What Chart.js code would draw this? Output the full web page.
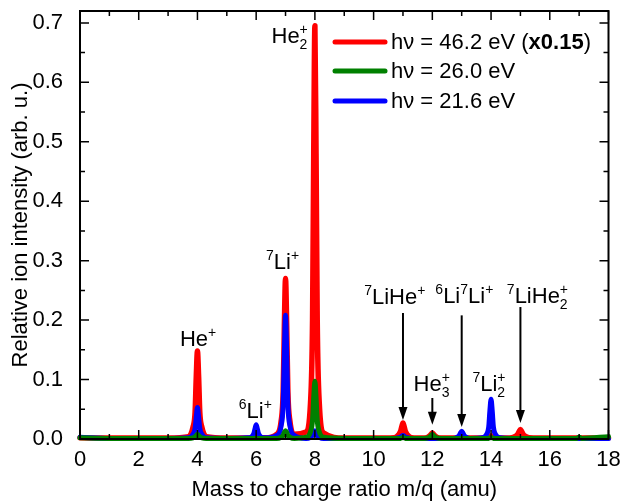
<!DOCTYPE html>
<html>
<head>
<meta charset="utf-8">
<script src="https://cdn.jsdelivr.net/npm/chart.js@4.4.1/dist/chart.umd.min.js"></script>
<style>
  html, body { margin: 0; padding: 0; background: #fff; }
  #wrap { width: 621px; height: 504px; }
</style>
</head>
<body>
<div id="wrap"><canvas id="canvasSpectrum"></canvas></div>
<script>
"use strict";

// mass axis (amu), shared by the three spectra
var massValues = [
    0, 1, 2, 3,
    3.7, 3.85, 3.92, 3.96, 4, 4.04, 4.08, 4.15, 4.3,
    5,
    5.7, 5.85, 5.92, 5.96, 6, 6.04, 6.08, 6.15, 6.3,
    6.7, 6.85, 6.92, 6.96, 7, 7.04, 7.08, 7.15, 7.3,
    7.7, 7.85, 7.92, 7.96, 8, 8.04, 8.08, 8.15, 8.3,
    9, 10,
    10.7, 10.85, 10.92, 10.96, 11, 11.04, 11.08, 11.15, 11.3,
    11.7, 11.85, 11.92, 11.96, 12, 12.04, 12.08, 12.15, 12.3,
    12.7, 12.85, 12.92, 12.96, 13, 13.04, 13.08, 13.15, 13.3,
    13.7, 13.85, 13.92, 13.96, 14, 14.04, 14.08, 14.15, 14.3,
    14.7, 14.85, 14.92, 14.96, 15, 15.04, 15.08, 15.15, 15.3,
    16, 16.9, 17, 17.1, 18
];

// hv = 46.2 eV (x0.15)
var intensity462 = [
    0.002, 0.0015, 0.0015, 0.0015,
    0.004, 0.020, 0.045, 0.105, 0.148, 0.105, 0.045, 0.020, 0.004,
    0.0015,
    0.0015, 0.002, 0.003, 0.004, 0.004, 0.004, 0.003, 0.002, 0.002,
    0.008, 0.030, 0.080, 0.190, 0.270, 0.190, 0.080, 0.030, 0.008,
    0.012, 0.060, 0.200, 0.480, 0.695, 0.480, 0.200, 0.060, 0.010,
    0.0015, 0.0015,
    0.002, 0.007, 0.013, 0.021, 0.027, 0.021, 0.013, 0.007, 0.002,
    0.0015, 0.003, 0.006, 0.008, 0.010, 0.008, 0.006, 0.003, 0.0015,
    0.0015, 0.002, 0.003, 0.004, 0.004, 0.004, 0.003, 0.002, 0.0015,
    0.0015, 0.002, 0.004, 0.005, 0.005, 0.005, 0.004, 0.002, 0.0015,
    0.002, 0.005, 0.009, 0.013, 0.016, 0.013, 0.009, 0.005, 0.002,
    0.0015, 0.0015, 0.0015, 0.0015, 0.0015
];

// hv = 26.0 eV
var intensity260 = [
    0.002, 0.001, 0.001, 0.001,
    0.001, 0.002, 0.004, 0.006, 0.008, 0.006, 0.004, 0.002, 0.001,
    0.001,
    0.001, 0.001, 0.001, 0.001, 0.001, 0.001, 0.001, 0.001, 0.001,
    0.001, 0.003, 0.006, 0.011, 0.014, 0.011, 0.006, 0.003, 0.001,
    0.003, 0.012, 0.032, 0.070, 0.097, 0.070, 0.032, 0.012, 0.003,
    0.001, 0.001,
    0.001, 0.001, 0.001, 0.002, 0.002, 0.002, 0.001, 0.001, 0.001,
    0.001, 0.002, 0.004, 0.006, 0.008, 0.006, 0.004, 0.002, 0.001,
    0.001, 0.001, 0.001, 0.001, 0.001, 0.001, 0.001, 0.001, 0.001,
    0.001, 0.001, 0.001, 0.002, 0.002, 0.002, 0.001, 0.001, 0.001,
    0.001, 0.001, 0.001, 0.001, 0.001, 0.001, 0.001, 0.001, 0.001,
    0.001, 0.001, 0.003, 0.001, 0.004
];

// hv = 21.6 eV
var intensity216 = [
    0.003, 0.001, 0.001, 0.001,
    0.002, 0.008, 0.018, 0.037, 0.053, 0.037, 0.018, 0.008, 0.002,
    0.001,
    0.002, 0.004, 0.009, 0.017, 0.024, 0.017, 0.009, 0.004, 0.002,
    0.006, 0.022, 0.060, 0.145, 0.208, 0.145, 0.060, 0.022, 0.006,
    0.001, 0.003, 0.006, 0.010, 0.014, 0.010, 0.006, 0.003, 0.001,
    0.001, 0.001,
    0.001, 0.002, 0.003, 0.005, 0.006, 0.005, 0.003, 0.002, 0.001,
    0.001, 0.001, 0.001, 0.001, 0.001, 0.001, 0.001, 0.001, 0.001,
    0.001, 0.003, 0.006, 0.010, 0.013, 0.010, 0.006, 0.003, 0.001,
    0.002, 0.008, 0.020, 0.047, 0.067, 0.047, 0.020, 0.008, 0.002,
    0.001, 0.001, 0.001, 0.001, 0.001, 0.001, 0.001, 0.001, 0.001,
    0.001, 0.001, 0.001, 0.001, 0.001
];

var seriesLabels = ['hν = 46.2 eV', 'hν = 26.0 eV', 'hν = 21.6 eV'];
var xTickValues = [0, 2, 4, 6, 8, 10, 12, 14, 16, 18];
var yTickValues = [0.0, 0.1, 0.2, 0.3, 0.4, 0.5, 0.6, 0.7];

var FONT = "'Liberation Sans', Arial, sans-serif";

function ToPoints(xs, ys) {
    var pts = [];
    for (var i = 0; i < xs.length; i++) {
        pts.push({ x: xs[i], y: ys[i] });
    }
    return pts;
}

// peak labels: [parts], centre x (amu), baseline y, optional arrow [x, yFrom, yTo]
var peakLabels = [
    { parts: [['n', 'He'], ['ss', '+', '2']], x: 7.14, y: 0.666 },
    { parts: [['n', 'He'], ['sup', '+']], x: 4.02, y: 0.156 },
    { parts: [['sup', '6'], ['n', 'Li'], ['sup', '+']], x: 5.97, y: 0.035 },
    { parts: [['sup', '7'], ['n', 'Li'], ['sup', '+']], x: 6.9, y: 0.286 },
    { parts: [['sup', '7'], ['n', 'LiHe'], ['sup', '+']], x: 10.72, y: 0.227, arrow: [11, 0.212, 0.032] },
    { parts: [['n', 'He'], ['ss', '+', '3']], x: 11.98, y: 0.081, arrow: [12, 0.069, 0.024] },
    { parts: [['sup', '6'], ['n', 'Li'], ['sup', '7'], ['n', 'Li'], ['sup', '+']], x: 13.09, y: 0.229, arrow: [13, 0.208, 0.020] },
    { parts: [['sup', '7'], ['n', 'Li'], ['ss', '+', '2']], x: 13.93, y: 0.081 },
    { parts: [['sup', '7'], ['n', 'LiHe'], ['ss', '+', '2']], x: 15.58, y: 0.229, arrow: [15, 0.222, 0.027] }
];

function PartWidth(ctx, part, big, small) {
    if (part[0] === 'n') {
        ctx.font = big + 'px ' + FONT;
        return ctx.measureText(part[1]).width;
    }
    ctx.font = small + 'px ' + FONT;
    if (part[0] === 'ss') {
        return Math.max(ctx.measureText(part[1]).width, ctx.measureText(part[2]).width);
    }
    return ctx.measureText(part[1]).width;
}

function DrawRichLabel(ctx, parts, cx, baseY) {
    var big = 22, small = 14;
    var total = 0;
    parts.forEach(function (p) { total += PartWidth(ctx, p, big, small); });
    var x = cx - total / 2;
    ctx.fillStyle = '#000';
    ctx.textAlign = 'left';
    ctx.textBaseline = 'alphabetic';
    parts.forEach(function (p) {
        var w = PartWidth(ctx, p, big, small);
        if (p[0] === 'n') {
            ctx.font = big + 'px ' + FONT;
            ctx.fillText(p[1], x, baseY);
        } else if (p[0] === 'sup') {
            ctx.font = small + 'px ' + FONT;
            ctx.fillText(p[1], x, baseY - 9);
        } else {
            ctx.font = small + 'px ' + FONT;
            ctx.fillText(p[1], x, baseY - 9);
            ctx.fillText(p[2], x, baseY + 6);
        }
        x += w;
    });
}

var decorPlugin = {
    id: 'decor',
    afterDatasetsDraw: function (chart) {
        var ctx = chart.ctx;
        var area = chart.chartArea;
        var xs = chart.scales.x, ys = chart.scales.y;
        ctx.save();

        // frame
        ctx.strokeStyle = '#000';
        ctx.lineWidth = 2;
        ctx.strokeRect(area.left, area.top, area.right - area.left, area.bottom - area.top);

        // inward ticks on all four sides
        ctx.lineWidth = 1.5;
        ctx.beginPath();
        for (var m = 0; m <= 18; m++) {
            var px = xs.getPixelForValue(m);
            var len = (m % 2 === 0) ? 9 : 5;
            ctx.moveTo(px, area.bottom); ctx.lineTo(px, area.bottom - len);
            ctx.moveTo(px, area.top); ctx.lineTo(px, area.top + len);
        }
        for (var k = 0; k <= 14; k++) {
            var py = ys.getPixelForValue(k * 0.05);
            var l2 = (k % 2 === 0) ? 9 : 5;
            ctx.moveTo(area.left, py); ctx.lineTo(area.left + l2, py);
            ctx.moveTo(area.right, py); ctx.lineTo(area.right - l2, py);
        }
        ctx.stroke();

        // peak labels and arrows
        peakLabels.forEach(function (lab) {
            DrawRichLabel(ctx, lab.parts, xs.getPixelForValue(lab.x), ys.getPixelForValue(lab.y));
            if (lab.arrow) {
                var ax = xs.getPixelForValue(lab.arrow[0]);
                var y0 = ys.getPixelForValue(lab.arrow[1]);
                var y1 = ys.getPixelForValue(lab.arrow[2]);
                ctx.strokeStyle = '#000';
                ctx.lineWidth = 2;
                ctx.beginPath();
                ctx.moveTo(ax, y0);
                ctx.lineTo(ax, y1 - 10);
                ctx.stroke();
                ctx.fillStyle = '#000';
                ctx.beginPath();
                ctx.moveTo(ax - 4.5, y1 - 13);
                ctx.lineTo(ax + 4.5, y1 - 13);
                ctx.lineTo(ax, y1);
                ctx.closePath();
                ctx.fill();
            }
        });

        // legend
        var colors = ['#ff0000', '#008000', '#0000ff'];
        var rows = [42, 71, 101];
        ctx.lineCap = 'round';
        ctx.lineWidth = 5;
        ctx.textBaseline = 'middle';
        ctx.textAlign = 'left';
        for (var i = 0; i < 3; i++) {
            ctx.strokeStyle = colors[i];
            ctx.beginPath();
            ctx.moveTo(335, rows[i]);
            ctx.lineTo(385, rows[i]);
            ctx.stroke();
            ctx.fillStyle = '#000';
            ctx.font = '22px ' + FONT;
            var tx = 391;
            var label = seriesLabels[i] + (i === 0 ? ' (' : '');
            ctx.fillText(label, tx, rows[i] + 1);
            if (i === 0) {
                tx += ctx.measureText(label).width;
                ctx.font = 'bold 22px ' + FONT;
                ctx.fillText('x0.15', tx, rows[i] + 1);
                tx += ctx.measureText('x0.15').width;
                ctx.font = '22px ' + FONT;
                ctx.fillText(')', tx, rows[i] + 1);
            }
        }
        ctx.restore();
    }
};

const context = document.getElementById('canvasSpectrum');
const myChart = new Chart(context, {
    type: 'line',
    data: {
        datasets: [{
            label: seriesLabels[0],
            data: ToPoints(massValues, intensity462),
            borderColor: '#ff0000',
            borderWidth: 5.5,
            order: 3
        }, {
            label: seriesLabels[1],
            data: ToPoints(massValues, intensity260),
            borderColor: '#008000',
            borderWidth: 5,
            order: 1
        }, {
            label: seriesLabels[2],
            data: ToPoints(massValues, intensity216),
            borderColor: '#0000ff',
            borderWidth: 5,
            order: 2
        }]
    },
    options: {
        responsive: true,
        maintainAspectRatio: false,
        animation: false,
        devicePixelRatio: 1,
        layout: { padding: { top: 11, right: 12.5, left: 0, bottom: 0 } },
        elements: {
            point: { radius: 0 },
            line: {
                fill: false,
                cubicInterpolationMode: 'monotone',
                borderJoinStyle: 'round',
                borderCapStyle: 'round'
            }
        },
        datasets: { line: { clip: false } },
        plugins: {
            legend: { display: false },
            tooltip: { enabled: false }
        },
        scales: {
            x: {
                type: 'linear',
                min: 0,
                max: 18,
                grid: { display: false, drawTicks: false },
                border: { display: false },
                afterBuildTicks: function (scale) {
                    scale.ticks = xTickValues.map(function (v) { return { value: v }; });
                },
                afterFit: function (scale) {
                    scale.height = 65;
                    scale.paddingLeft = 0;
                    scale.paddingRight = 0;
                },
                ticks: {
                    color: '#000',
                    font: { family: FONT, size: 22 },
                    padding: 8,
                    maxRotation: 0,
                    autoSkip: false,
                    callback: function (v) { return String(v); }
                },
                title: {
                    display: true,
                    text: 'Mass to charge ratio m/q (amu)',
                    color: '#000',
                    font: { family: FONT, size: 22 },
                    padding: { top: 0, bottom: 1 }
                }
            },
            y: {
                min: 0,
                max: 0.72,
                grid: { display: false, drawTicks: false },
                border: { display: false },
                afterBuildTicks: function (scale) {
                    scale.ticks = yTickValues.map(function (v) { return { value: v }; });
                },
                afterFit: function (scale) {
                    scale.width = 80;
                    scale.paddingTop = 0;
                    scale.paddingBottom = 0;
                },
                ticks: {
                    color: '#000',
                    font: { family: FONT, size: 22 },
                    padding: 17,
                    callback: function (v) { return Number(v).toFixed(1); }
                },
                title: {
                    display: true,
                    text: 'Relative ion intensity (arb. u.)',
                    color: '#000',
                    font: { family: FONT, size: 22 },
                    padding: { top: 8, bottom: 0 }
                }
            }
        }
    },
    plugins: [decorPlugin]
});
</script>
</body>
</html>
